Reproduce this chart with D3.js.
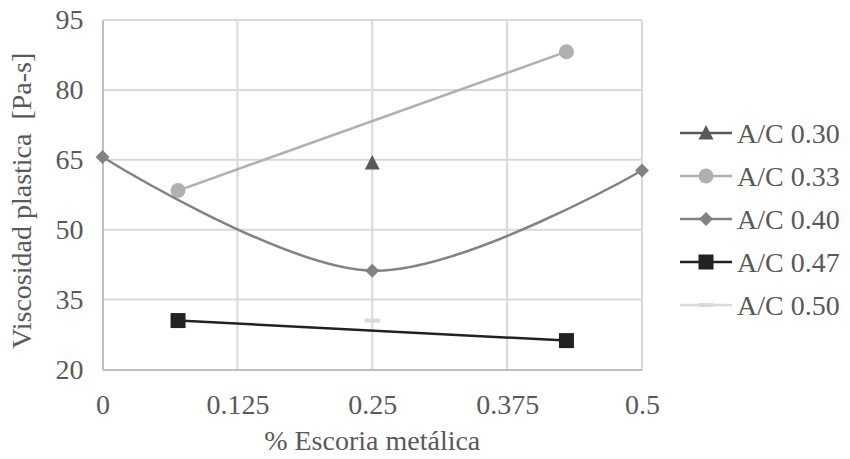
<!DOCTYPE html>
<html>
<head>
<meta charset="utf-8">
<script src="https://cdn.jsdelivr.net/npm/d3@7"></script>
<style>
  body { margin: 0; background: #fff; }
</style>
</head>
<body>
<svg id="chart" width="850" height="459"></svg>
<script>
// Data
const seriesNames = ['A/C 0.30', 'A/C 0.33', 'A/C 0.40', 'A/C 0.47', 'A/C 0.50'];
const ac030 = [{ x: 0.25, y: 64.3 }];
const ac033 = [{ x: 0.07, y: 58.4 }, { x: 0.43, y: 88.2 }];
const ac040 = [{ x: 0, y: 65.6 }, { x: 0.25, y: 41.2 }, { x: 0.5, y: 62.7 }];
const ac047 = [{ x: 0.07, y: 30.5 }, { x: 0.43, y: 26.2 }];
const ac050 = [{ x: 0.25, y: 30.5 }];
const xTicks = [0, 0.125, 0.25, 0.375, 0.5];
const yTicks = [20, 35, 50, 65, 80, 95];

const FONT = "'Liberation Serif', Tinos, 'Times New Roman', Times, 'Nimbus Roman', 'DejaVu Serif', 'Noto Serif', serif";
const FS = 28;
const TEXT = '#595959';

const series = [
  { name: seriesNames[0], values: ac030, color: '#595959', marker: 'triangle', smooth: false },
  { name: seriesNames[1], values: ac033, color: '#b0b0b0', marker: 'circle', smooth: false },
  { name: seriesNames[2], values: ac040, color: '#828282', marker: 'diamond', smooth: true },
  { name: seriesNames[3], values: ac047, color: '#222222', marker: 'square', smooth: false },
  { name: seriesNames[4], values: ac050, color: '#d9d9d9', marker: 'dash', smooth: false }
];

const svg = d3.select('#chart');
const plot = { left: 102.5, right: 642, top: 20, bottom: 369.5 };

const x = d3.scaleLinear().domain([0, 0.5]).range([plot.left, plot.right]);
const y = d3.scaleLinear().domain([20, 95]).range([plot.bottom, plot.top]);

// gridlines
svg.append('g')
  .selectAll('line')
  .data(xTicks.slice(1))
  .join('line')
  .attr('x1', d => x(d)).attr('x2', d => x(d))
  .attr('y1', plot.top).attr('y2', plot.bottom)
  .attr('stroke', '#d9d9d9').attr('stroke-width', 2);

svg.append('g')
  .selectAll('line')
  .data(yTicks.slice(1))
  .join('line')
  .attr('x1', plot.left).attr('x2', plot.right)
  .attr('y1', d => y(d)).attr('y2', d => y(d))
  .attr('stroke', '#d9d9d9').attr('stroke-width', 2);

// axes
const xAxis = svg.append('g')
  .attr('transform', `translate(0, ${plot.bottom})`)
  .call(d3.axisBottom(x).tickValues(xTicks).tickFormat(d => String(d)).tickSize(0).tickPadding(25));
const yAxis = svg.append('g')
  .attr('transform', `translate(${plot.left}, 0)`)
  .call(d3.axisLeft(y).tickValues(yTicks).tickSize(0).tickPadding(19));

[xAxis, yAxis].forEach(a => {
  a.attr('font-family', FONT).attr('font-size', FS);
  a.select('.domain').attr('stroke', '#bfbfbf').attr('stroke-width', 2);
  a.selectAll('text').attr('fill', TEXT);
});

// axis titles
svg.append('text')
  .attr('x', x(0.25)).attr('y', 450)
  .attr('text-anchor', 'middle')
  .attr('font-family', FONT).attr('font-size', FS).attr('fill', TEXT)
  .text('% Escoria metálica');

svg.append('text')
  .attr('transform', `translate(31, ${(plot.top + plot.bottom) / 2 + 6}) rotate(-90)`)
  .attr('text-anchor', 'middle')
  .attr('font-family', FONT).attr('font-size', FS).attr('fill', TEXT)
  .style('white-space', 'pre')
  .text('Viscosidad plastica  [Pa-s]');

// marker drawing
function drawMarker(g, type, color) {
  if (type === 'circle') {
    g.append('circle').attr('r', 7.5).attr('fill', color);
  } else if (type === 'triangle') {
    g.append('path').attr('d', 'M0,-8L7.5,6.5L-7.5,6.5Z').attr('fill', color);
  } else if (type === 'diamond') {
    g.append('path').attr('d', 'M0,-7L7,0L0,7L-7,0Z').attr('fill', color);
  } else if (type === 'square') {
    g.append('rect').attr('x', -7.5).attr('y', -7.5).attr('width', 15).attr('height', 15).attr('fill', color);
  } else if (type === 'dash') {
    g.append('rect').attr('x', -7.5).attr('y', -2).attr('width', 15).attr('height', 4).attr('fill', color);
  }
}

// lines and markers
series.forEach(s => {
  if (s.values.length > 1) {
    const line = d3.line()
      .x(d => x(d.x))
      .y(d => y(d.y))
      .curve(s.smooth ? d3.curveCardinal.tension(0) : d3.curveLinear);
    svg.append('path')
      .datum(s.values)
      .attr('d', line)
      .attr('fill', 'none')
      .attr('stroke', s.color)
      .attr('stroke-width', 2.5);
  }
  s.values.forEach(d => {
    const g = svg.append('g').attr('transform', `translate(${x(d.x)}, ${y(d.y)})`);
    drawMarker(g, s.marker, s.color);
  });
});

// legend
const legend = svg.append('g').attr('transform', 'translate(680, 133)');
series.forEach((s, i) => {
  const row = legend.append('g').attr('transform', `translate(0, ${i * 43})`);
  row.append('line')
    .attr('x1', 0).attr('x2', 52)
    .attr('stroke', s.color).attr('stroke-width', 2.5);
  drawMarker(row.append('g').attr('transform', 'translate(26, 0)'), s.marker, s.color);
  row.append('text')
    .attr('x', 57).attr('y', 0)
    .attr('dy', '0.35em')
    .attr('font-family', FONT).attr('font-size', FS).attr('fill', TEXT)
    .text(s.name);
});
</script>
</body>
</html>
